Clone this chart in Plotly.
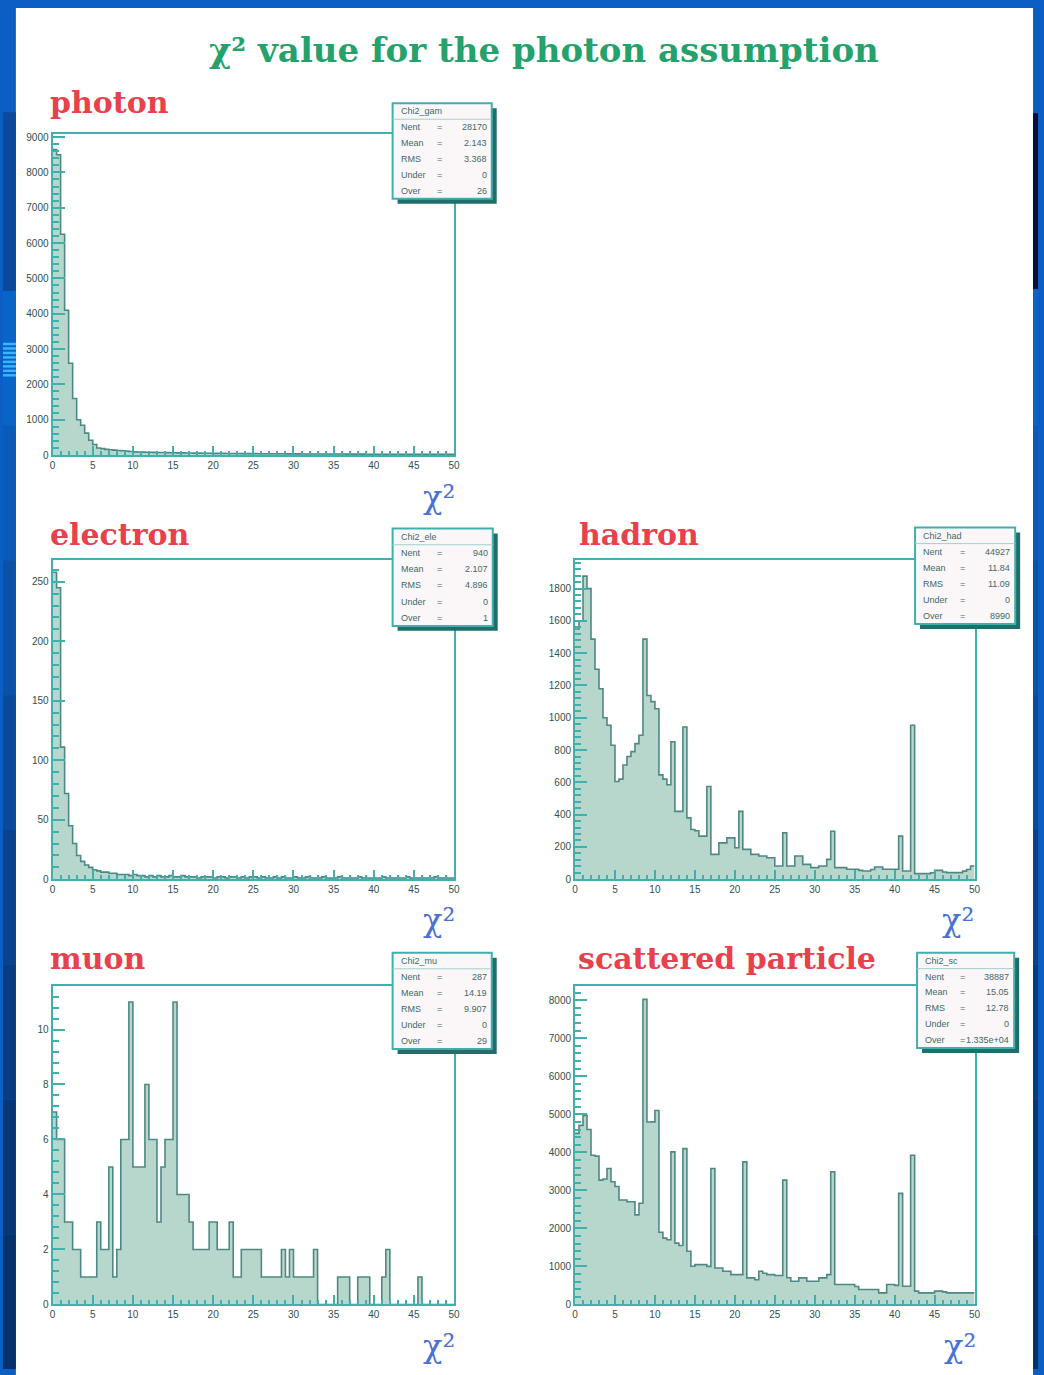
import plotly.graph_objects as go

W, H = 1044, 1375

# ---------------- data (100 bins of width 0.5 from 0 to 50) ----------------
bin_edges_lo = [i * 0.5 for i in range(100)]

photon = [8650, 8500, 6250, 4100, 2600, 1600, 1000, 845, 620, 420,
          300, 200, 180, 160, 150, 140, 130, 120, 110, 100,
          88, 85, 82, 80, 78, 75, 73, 70, 68, 66,
          64, 62, 60, 58, 57, 55, 54, 52, 51, 50,
          48, 47, 46, 45, 44, 43, 42, 41, 40, 40,
          39, 38, 37, 37, 36, 35, 35, 34, 33, 33,
          32, 32, 31, 31, 30, 30, 29, 29, 28, 28,
          27, 27, 27, 26, 26, 25, 25, 25, 24, 24,
          24, 23, 23, 23, 22, 22, 22, 21, 21, 21,
          20, 20, 20, 19, 19, 19, 18, 18, 18, 18]

electron = [258, 245, 111, 72, 45, 30, 20, 15, 12, 10,
            8, 7, 6, 6, 5, 5, 4, 4, 4, 3,
            4, 3, 3, 2, 3, 2, 3, 2, 2, 3,
            2, 2, 3, 2, 2, 2, 1, 2, 2, 2,
            1, 2, 2, 1, 2, 2, 1, 2, 1, 2,
            2, 1, 2, 1, 1, 2, 1, 2, 1, 1,
            2, 1, 1, 2, 1, 1, 1, 2, 1, 1,
            1, 2, 1, 1, 1, 1, 2, 1, 1, 1,
            1, 1, 2, 1, 1, 1, 1, 1, 2, 1,
            1, 1, 1, 1, 1, 2, 1, 1, 1, 1]

hadron = [1550, 1600, 1877, 1800, 1487, 1300, 1180, 1000, 954, 830,
          605, 620, 707, 760, 790, 840, 892, 1487, 1138, 1100,
          1056, 646, 620, 585, 851, 420, 420, 943, 380, 308,
          300, 267, 267, 574, 154, 154, 225, 225, 256, 256,
          195, 420, 185, 185, 154, 154, 144, 144, 133, 133,
          82, 82, 287, 82, 82, 144, 144, 92, 92, 72,
          72, 82, 82, 123, 297, 72, 72, 72, 62, 62,
          62, 55, 51, 51, 60, 76, 76, 62, 62, 62,
          62, 267, 51, 51, 954, 35, 35, 35, 35, 40,
          55, 55, 45, 41, 41, 41, 41, 50, 60, 82]

muon = [7, 6, 6, 3, 3, 2, 2, 1, 1, 1,
        1, 3, 2, 2, 5, 1, 2, 6, 6, 11,
        5, 5, 5, 8, 6, 6, 3, 5, 6, 6,
        11, 4, 4, 4, 3, 2, 2, 2, 2, 3,
        3, 2, 2, 2, 3, 1, 1, 2, 2, 2,
        2, 2, 1, 1, 1, 1, 1, 2, 1, 2,
        1, 1, 1, 1, 1, 2, 0, 0, 0, 0,
        0, 1, 1, 1, 0, 0, 1, 1, 1, 0,
        0, 0, 1, 2, 0, 0, 0, 0, 0, 0,
        0, 1, 0, 0, 0, 0, 0, 0, 0, 0]

scattered = [4500, 4710, 4970, 4600, 3924, 3900, 3270, 3300, 3575, 3226,
             3100, 2747, 2747, 2700, 2700, 2354, 2660, 8022, 4796, 4800,
             5100, 1900, 1744, 1700, 4011, 1613, 1550, 4098, 1400, 1003,
             1046, 1046, 1046, 1000, 3575, 959, 959, 872, 872, 785,
             785, 785, 3750, 698, 698, 650, 872, 820, 785, 785,
             760, 760, 3270, 700, 610, 610, 698, 698, 610, 610,
             610, 698, 698, 785, 3488, 523, 523, 523, 523, 523,
             470, 392, 392, 392, 392, 392, 305, 305, 523, 523,
             500, 2921, 480, 480, 3924, 349, 305, 305, 305, 305,
             349, 349, 330, 305, 305, 305, 305, 305, 305, 305]

panel_titles = ["photon", "electron", "hadron", "muon", "scattered particle"]
stat_names = ["Chi2_gam", "Chi2_ele", "Chi2_had", "Chi2_mu", "Chi2_sc"]
stat_nent = ["28170", "940", "44927", "287", "38887"]
stat_mean = ["2.143", "2.107", "11.84", "14.19", "15.05"]
stat_rms = ["3.368", "4.896", "11.09", "9.907", "12.78"]
stat_under = ["0", "0", "0", "0", "0"]
stat_over = ["26", "1", "8990", "29", "1.335e+04"]
x_ticks = [0, 5, 10, 15, 20, 25, 30, 35, 40, 45, 50]

# ---------------- styling / layout ----------------
TEAL = "#3fb0ae"
FILL = "#b7d7cc"
LINE = "#4f8883"
RED = "#e8404c"
LABEL = "#2f4f4f"

panels = [
    dict(x0=50, x1=455, yt=132, yb=455, ymax=9084, dt=1000, mn=200,
         tx=45, ty=100, box=(393, 101, 493, 197), chi=(440, 497)),
    dict(x0=50, x1=455, yt=561, yb=882, ymax=268, dt=50, mn=10,
         tx=45, ty=535, box=(393, 529, 494, 627), chi=(440, 923)),
    dict(x0=577, x1=980, yt=561, yb=882, ymax=1975, dt=200, mn=40,
         tx=579, ty=535, box=(920, 528, 1021, 625), chi=(963, 923)),
    dict(x0=50, x1=455, yt=989, yb=1310, ymax=11.6, dt=2, mn=0.4,
         tx=45, ty=962, box=(393, 956, 493, 1053), chi=(440, 1352)),
    dict(x0=577, x1=980, yt=989, yb=1310, ymax=8387, dt=1000, mn=200,
         tx=578, ty=962, box=(922, 956, 1020, 1052), chi=(965, 1352)),
]
series = [photon, electron, hadron, muon, scattered]


def px(x):
    return x / W


def py(y):
    return 1 - y / H


fig = go.Figure()
layout = dict(width=W, height=H, autosize=False,
              margin=dict(l=0, r=0, t=0, b=0),
              paper_bgcolor="#0a5ec4", plot_bgcolor="rgba(0,0,0,0)",
              showlegend=False)
shapes = []
annotations = []

# slide background: white page with blue borders
shapes.append(dict(type="rect", xref="paper", yref="paper", x0=px(13), x1=px(1039),
                   y0=-0.01, y1=py(5), fillcolor="white", line_width=0, layer="below"))
strip_cols = ["#0864c8", "#0a5ab8", "#0a52a8", "#094a9a", "#08438c", "#073d80", "#063774", "#05326a"]
seg = (1375 - 290) / len(strip_cols)
for k, c in enumerate(strip_cols):
    ya, yb = 290 + k * seg, 290 + (k + 1) * seg
    shapes.append(dict(type="rect", xref="paper", yref="paper", x0=0, x1=px(13),
                       y0=py(yb), y1=py(ya), fillcolor=c, line_width=0, layer="below"))
    shapes.append(dict(type="rect", xref="paper", yref="paper", x0=px(1039), x1=1,
                       y0=py(yb), y1=py(ya), fillcolor=c, line_width=0, layer="below"))
shapes.append(dict(type="rect", xref="paper", yref="paper", x0=0, x1=px(13),
                   y0=py(290), y1=py(110), fillcolor="#0a4a9c", line_width=0, layer="below"))
shapes.append(dict(type="rect", xref="paper", yref="paper", x0=px(1039), x1=1,
                   y0=py(288), y1=py(111), fillcolor="#0a0d3a", line_width=0, layer="below"))
for k in range(8):
    yy = 342 + k * 4.5
    shapes.append(dict(type="rect", xref="paper", yref="paper", x0=0, x1=px(13),
                       y0=py(yy + 2.5), y1=py(yy), fillcolor="#3cb4ff", line_width=0, layer="below"))

for i, (p, vals) in enumerate(zip(panels, series), start=1):
    xa = "x" if i == 1 else f"x{i}"
    ya = "y" if i == 1 else f"y{i}"
    xs = bin_edges_lo + [50]
    ys = vals + [vals[-1]]
    fig.add_trace(go.Scatter(x=xs, y=ys, xaxis=xa, yaxis=ya, mode="lines",
                             line=dict(shape="hv", color=LINE, width=1.6),
                             fill="tozeroy", fillcolor=FILL, hoverinfo="skip"))
    axis_common = dict(showline=True, mirror=True, linecolor=TEAL, linewidth=2,
                       ticks="inside", tickcolor=TEAL, tickwidth=1.5, showgrid=False,
                       zeroline=False,
                       tickfont=dict(family="Liberation Sans", size=10, color=LABEL))
    layout["xaxis" if i == 1 else f"xaxis{i}"] = dict(
        axis_common, domain=[px(p["x0"]), px(p["x1"])], anchor=ya, range=[0, 50],
        tickvals=x_ticks, ticklen=9,
        minor=dict(dtick=1, ticks="inside", ticklen=4, tickcolor=TEAL))
    layout["yaxis" if i == 1 else f"yaxis{i}"] = dict(
        axis_common, domain=[py(p["yb"]), py(p["yt"])], anchor=xa, range=[0, p["ymax"]],
        dtick=p["dt"], tick0=0, ticklen=12,
        minor=dict(dtick=p["mn"], ticks="inside", ticklen=6, tickcolor=TEAL))

    annotations.append(dict(text=f"<b>{panel_titles[i-1]}</b>", xref="paper", yref="paper",
                            x=px(p["tx"]), y=py(p["ty"]), xanchor="left", yanchor="middle",
                            showarrow=False,
                            font=dict(family="DejaVu Serif", size=30, color=RED)))
    annotations.append(dict(text="χ²", xref="paper", yref="paper",
                            x=px(p["chi"][0]), y=py(p["chi"][1]), xanchor="center",
                            yanchor="middle", showarrow=False,
                            font=dict(family="DejaVu Serif", size=32, color="#4a72d4")))
    bx0, by0, bx1, by1 = p["box"]
    shapes.append(dict(type="rect", xref="paper", yref="paper", x0=px(bx0 + 5), x1=px(bx1 + 5),
                       y0=py(by1 + 5), y1=py(by0 + 5), fillcolor="#1f6e6a", line_width=0,
                       layer="above"))
    shapes.append(dict(type="rect", xref="paper", yref="paper", x0=px(bx0), x1=px(bx1),
                       y0=py(by1), y1=py(by0), fillcolor="#fbf7f9",
                       line=dict(color=TEAL, width=2), layer="above"))
    rowh = (by1 - by0) / 6
    shapes.append(dict(type="line", xref="paper", yref="paper", x0=px(bx0), x1=px(bx1),
                       y0=py(by0 + rowh), y1=py(by0 + rowh),
                       line=dict(color="#9fd0cf", width=1), layer="above"))
    rows = [("Nent", stat_nent), ("Mean", stat_mean), ("RMS", stat_rms),
            ("Under", stat_under), ("Over", stat_over)]
    sfont = dict(family="Liberation Sans", size=9, color="#3f6868")
    annotations.append(dict(text=stat_names[i-1], xref="paper", yref="paper",
                            x=px(bx0 + 6), y=py(by0 + rowh * 0.5), xanchor="left",
                            yanchor="middle", showarrow=False, font=sfont))
    for r, (nm, arr) in enumerate(rows, start=1):
        yc = py(by0 + rowh * (r + 0.5))
        annotations.append(dict(text=nm, xref="paper", yref="paper", x=px(bx0 + 6), y=yc,
                                xanchor="left", yanchor="middle", showarrow=False, font=sfont))
        annotations.append(dict(text="=", xref="paper", yref="paper",
                                x=px(bx0 + (bx1 - bx0) * 0.47), y=yc,
                                xanchor="center", yanchor="middle", showarrow=False, font=sfont))
        annotations.append(dict(text=arr[i-1], xref="paper", yref="paper", x=px(bx1 - 3), y=yc,
                                xanchor="right", yanchor="middle", showarrow=False, font=sfont))

annotations.append(dict(text="<b>χ² value for the photon assumption</b>",
                        xref="paper", yref="paper", x=px(546), y=py(47),
                        xanchor="center", yanchor="middle", showarrow=False,
                        font=dict(family="DejaVu Serif", size=34, color="#25a26c")))

layout["shapes"] = shapes
layout["annotations"] = annotations
fig.update_layout(**layout)
fig.write_html("out.html", config={"displayModeBar": False},
               post_script="document.body.style.margin='0px';")
